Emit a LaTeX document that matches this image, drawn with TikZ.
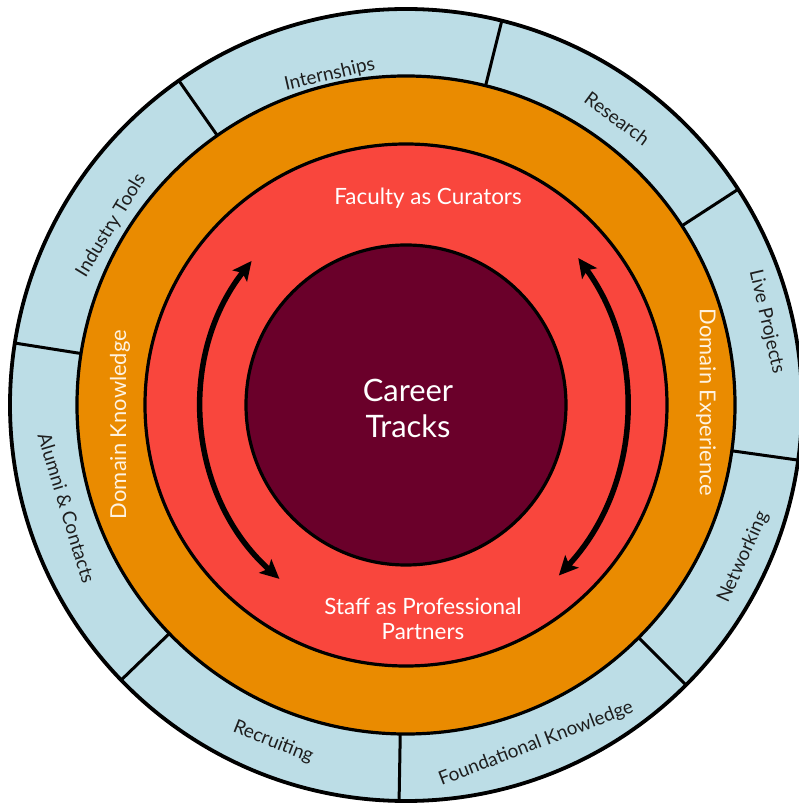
\documentclass[tikz,border=0pt]{standalone}
\usepackage{fontspec}
\setmainfont{Lato}
\usetikzlibrary{arrows.meta}
\definecolor{ringblue}{RGB}{188,221,230}
\definecolor{ringorange}{RGB}{234,139,0}
\definecolor{ringred}{RGB}{249,70,61}
\definecolor{coremaroon}{RGB}{106,0,42}
\definecolor{paletext}{RGB}{255,243,225}
\definecolor{labelgrey}{RGB}{30,30,30}
\begin{document}
\begin{tikzpicture}[x=1bp,y=1bp,
  ringdisc/.style={circle, draw=black, line width=3.2bp, inner sep=0pt},
  divider/.style={draw=black, line width=3bp},
  bluelabel/.style={font=\fontsize{19}{23}\selectfont, text=labelgrey, inner sep=0pt},
  whitelabel/.style={font=\fontsize{22.5}{25.5}\selectfont, text=white, align=center, inner sep=0pt},
  orangelabel/.style={font=\fontsize{22}{26}\selectfont, text=paletext, inner sep=0pt},
  coretext/.style={font=\fontsize{31}{36}\selectfont, text=white, align=center, inner sep=0pt},
  cyclearrow/.style={line width=5.5bp, {Stealth[length=19bp,width=18bp,inset=4bp]}-{Stealth[length=19bp,width=18bp,inset=4bp]}}
]
\useasboundingbox (-406,-399) rectangle (393,405);
\clip (-406,-399) rectangle (393,405);
\fill[white] (-406,-399) rectangle (393,405);

% rings
\node[ringdisc, fill=ringblue, line width=3.8bp, minimum size=792bp] (outerring) at (0,0) {};
\node[ringdisc, fill=ringorange, minimum size=658bp] (orangering) at (0,0) {};
\node[ringdisc, fill=ringred, minimum size=522bp] (redring) at (0,0) {};
\node[ringdisc, fill=coremaroon, minimum size=320bp] (core) at (0,0) {};

% dividers in the outer ring
\foreach \a in {125,76,33,-8,-45,-91,-136,171}{
  \draw[divider] (\a:329) -- (\a:396);
}

% outer ring labels
\node[bluelabel, rotate=13]    (internships) at (103:339)   {Internships};
\node[bluelabel, rotate=-36.4] (research)    at (53.6:356)  {Research};
\node[bluelabel, rotate=-77]   (live)        at (13:370)    {Live Projects};
\node[bluelabel, rotate=65.7]  (networking)  at (-24.3:370) {Networking};
\node[bluelabel, rotate=21]    (foundation)  at (-69:363)   {Foundational Knowledge};
\node[bluelabel, rotate=-21.5] (recruiting)  at (-111.5:362.5) {Recruiting};
\node[bluelabel, rotate=-73.1] (alumni)      at (196.9:354.7) {Alumni \& Contacts};
\node[bluelabel, rotate=58.7]  (tools)       at (148.7:345) {Industry Tools};

% orange ring labels
\node[orangelabel, rotate=90]  (knowledge)  at (-286,-19.5) {Domain Knowledge};
\node[orangelabel, rotate=-90] (experience) at (300,2.5)    {Domain Experience};

% red ring labels
\node[whitelabel, anchor=base] (faculty) at (22,200) {Faculty as Curators};
\node[whitelabel] (staff) at (17,-214) {Staff as Professional\\Partners};

% core
\node[coretext] (career) at (2,-3.5) {Career\\Tracks};

% cycle arrows
\coordinate (leftc) at (30,0);
\coordinate (rightc) at (-30,0);
\draw[cyclearrow] ([shift={(228:234)}]leftc) arc[start angle=228, end angle=142, radius=234];
\draw[cyclearrow] ([shift={(36:250)}]rightc) arc[start angle=36, end angle=-43, radius=250];
\end{tikzpicture}
\end{document}
